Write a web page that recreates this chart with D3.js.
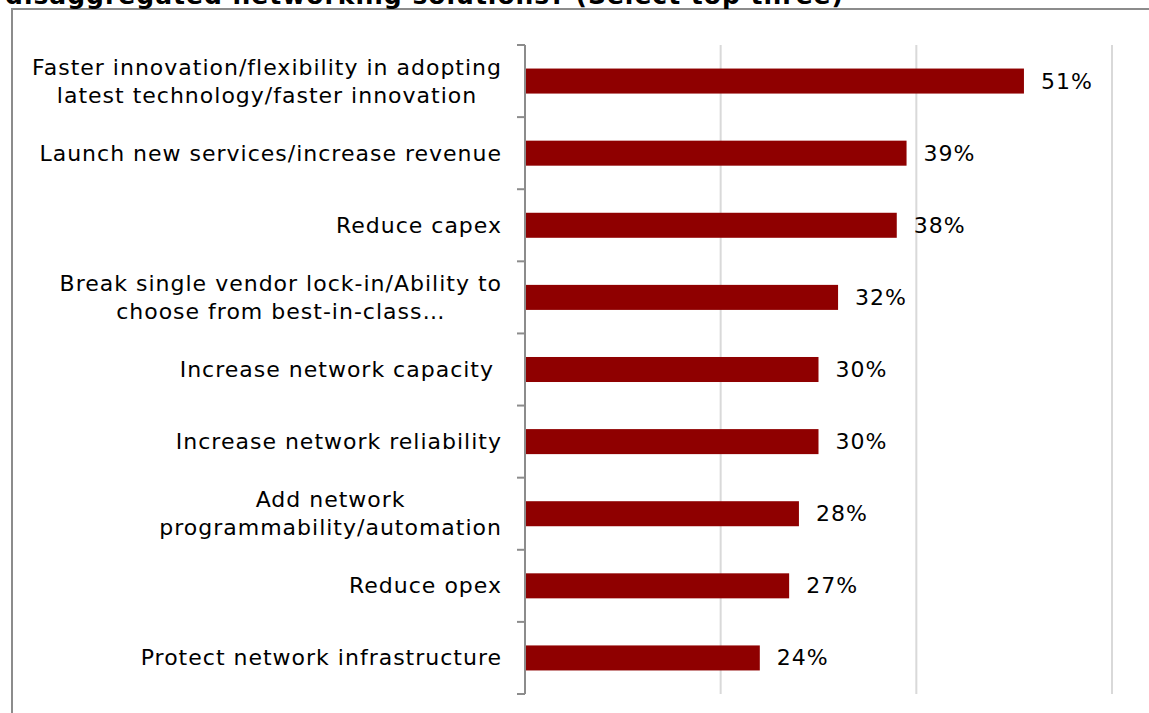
<!DOCTYPE html>
<html>
<head>
<meta charset="utf-8">
<script src="https://cdn.jsdelivr.net/npm/d3@7/dist/d3.min.js"></script>
<style>
  html, body { margin: 0; padding: 0; background: #fff; }
  svg { display: block; }
  text { font-family: "DejaVu Sans", Verdana, sans-serif; fill: #000; }
</style>
</head>
<body>
<svg id="chart" width="1149" height="713"></svg>
<script>
// Survey drivers for disaggregated networking (share of respondents)
const categories = [
  ["Faster innovation/flexibility in adopting", "latest technology/faster innovation"],
  ["Launch new services/increase revenue"],
  ["Reduce capex"],
  ["Break single vendor lock-in/Ability to", "choose from best-in-class\u2026"],
  ["Increase network capacity\u00a0"],
  ["Increase network reliability"],
  ["Add network", "programmability/automation"],
  ["Reduce opex"],
  ["Protect network infrastructure"]
];
const values = [0.51, 0.39, 0.38, 0.32, 0.30, 0.30, 0.28, 0.27, 0.24];
const gridTicks = [0.2, 0.4, 0.6];
const titleText = "disaggregated networking solutions? (Select top three)";

const svg = d3.select("#chart");
const plot = { left: 525, right: 1112, top: 45, bottom: 694 };
const barColor = "#8f0000";
const fontSize = 22;
const spacing = 1;

// Chart frame
svg.append("rect")
  .attr("x", 12).attr("y", 9)
  .attr("width", 1200).attr("height", 800)
  .attr("fill", "none")
  .attr("stroke", "#8c8c8c")
  .attr("stroke-width", 2);

// Title (partly above the frame)
svg.append("text")
  .attr("x", 5).attr("y", 4)
  .style("font-size", "25px")
  .style("font-weight", "bold")
  .style("letter-spacing", "1px")
  .text(titleText);

const keys = categories.map((c, i) => i);
const x = d3.scaleLinear().domain([0, 0.6]).range([plot.left, plot.right]);
const y = d3.scaleBand().domain(keys).range([plot.top, plot.bottom])
  .paddingInner(0.653).paddingOuter(0.653 / 2);
const step = y.step();

// Vertical gridlines
svg.append("g")
  .selectAll("line")
  .data(gridTicks)
  .join("line")
  .attr("x1", d => x(d)).attr("x2", d => x(d))
  .attr("y1", plot.top).attr("y2", plot.bottom)
  .attr("stroke", "#d9d9d9")
  .attr("stroke-width", 2);

// Bars
svg.append("g")
  .selectAll("rect")
  .data(values)
  .join("rect")
  .attr("x", x(0))
  .attr("y", (d, i) => y(i))
  .attr("width", d => x(d) - x(0))
  .attr("height", y.bandwidth())
  .attr("fill", barColor);

// Category axis with ticks between categories
const axisG = svg.append("g");
axisG.append("line")
  .attr("x1", x(0)).attr("x2", x(0))
  .attr("y1", plot.top).attr("y2", plot.bottom)
  .attr("stroke", "#8c8c8c").attr("stroke-width", 2);
axisG.selectAll("line.tick")
  .data(d3.range(categories.length + 1))
  .join("line")
  .attr("class", "tick")
  .attr("x1", x(0) - 8).attr("x2", x(0))
  .attr("y1", i => plot.top + i * step)
  .attr("y2", i => plot.top + i * step)
  .attr("stroke", "#8c8c8c").attr("stroke-width", 2);

// Category labels: lines centred on each other, block right-aligned to the axis
const labelRight = x(0) - 23;
const lineGap = 28;
const labelG = svg.append("g")
  .style("font-size", fontSize + "px")
  .style("letter-spacing", spacing + "px");
categories.forEach((lines, i) => {
  const cy = y(i) + y.bandwidth() / 2;
  const group = labelG.append("g");
  const texts = lines.map((ln, j) => group.append("text")
    .attr("y", cy + (j - (lines.length - 1) / 2) * lineGap)
    .attr("dominant-baseline", "central")
    .attr("text-anchor", "start")
    .text(ln));
  const widths = texts.map(t => t.node().getComputedTextLength());
  const maxW = d3.max(widths);
  texts.forEach((t, j) => t.attr("x", labelRight - maxW / 2 - widths[j] / 2));
});

// Value labels
svg.append("g")
  .style("font-size", fontSize + "px")
  .style("letter-spacing", spacing + "px")
  .selectAll("text")
  .data(values)
  .join("text")
  .attr("x", d => x(d) + 17)
  .attr("y", (d, i) => y(i) + y.bandwidth() / 2)
  .attr("dominant-baseline", "central")
  .text(d => Math.round(d * 100) + "%");
</script>
</body>
</html>
